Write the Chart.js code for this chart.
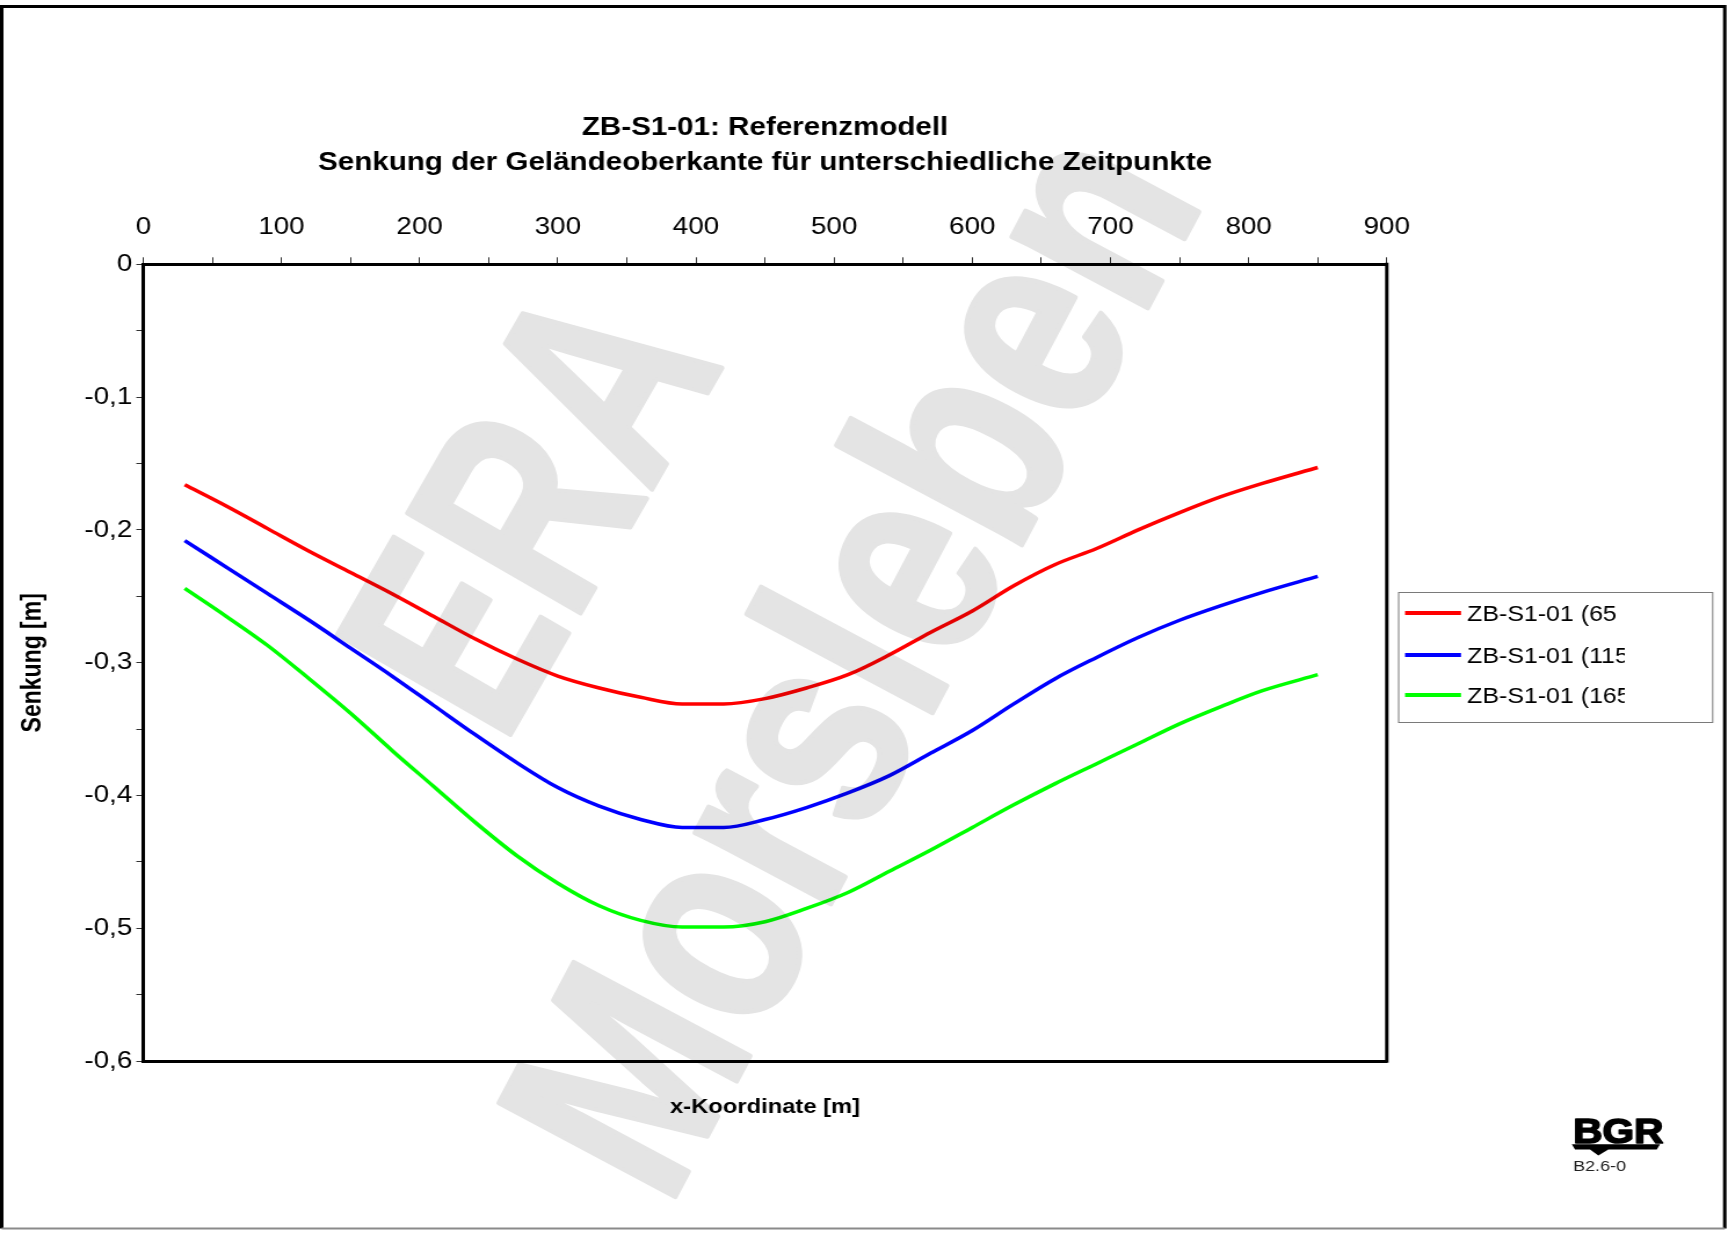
<!DOCTYPE html>
<html lang="de">
<head>
<meta charset="utf-8">
<title>ZB-S1-01: Referenzmodell</title>
<script src="https://cdn.jsdelivr.net/npm/chart.js@4/dist/chart.umd.min.js"></script>
<style>
  html, body { margin: 0; padding: 0; background: #ffffff; overflow: hidden; }
  #chart { display: block; }
</style>
</head>
<body>
<canvas id="chart" width="1490" height="1234" style="width:1728px;height:1234px"></canvas>
<script>
// ---- data -------------------------------------------------------------
const xKoordinate = [30, 60, 90, 120, 150, 180, 210, 240, 270, 300, 330, 360, 390, 420,
                     450, 480, 510, 540, 570, 600, 630, 660, 690, 720, 750, 780, 810, 850];

const senkung65 = [-0.166, -0.182, -0.199, -0.216, -0.232, -0.248, -0.265, -0.282, -0.297, -0.310,
                   -0.319, -0.326, -0.331, -0.331, -0.327, -0.319, -0.309, -0.294, -0.277, -0.261,
                   -0.242, -0.226, -0.214, -0.200, -0.187, -0.175, -0.165, -0.153];

const senkung115 = [-0.208, -0.228, -0.248, -0.268, -0.289, -0.310, -0.332, -0.354, -0.375, -0.394,
                    -0.408, -0.418, -0.424, -0.424, -0.418, -0.409, -0.398, -0.385, -0.368, -0.351,
                    -0.331, -0.312, -0.296, -0.281, -0.268, -0.257, -0.247, -0.235];

const senkung165 = [-0.244, -0.265, -0.287, -0.312, -0.338, -0.366, -0.393, -0.420, -0.445, -0.466,
                    -0.483, -0.494, -0.499, -0.499, -0.495, -0.485, -0.473, -0.457, -0.441, -0.424,
                    -0.407, -0.391, -0.376, -0.361, -0.346, -0.333, -0.321, -0.309];

const seriesLabels = ['ZB-S1-01 (65', 'ZB-S1-01 (115', 'ZB-S1-01 (165'];
const seriesColors = ['#ff0000', '#0000ff', '#00ff00'];

const xTickLabels = ['0', '100', '200', '300', '400', '500', '600', '700', '800', '900'];
const yTickLabels = ['0', '-0,1', '-0,2', '-0,3', '-0,4', '-0,5', '-0,6'];

const titleLines = ['ZB-S1-01: Referenzmodell',
                    'Senkung der Geländeoberkante für unterschiedliche Zeitpunkte'];
const xAxisTitle = 'x-Koordinate [m]';
const yAxisTitle = 'Senkung [m]';
const watermarkLines = ['ERA', 'Morsleben'];
const logoText = 'BGR';
const logoCode = 'B2.6-0';

// ---- layout -------------------------------------------------------------
// The drawing buffer is 1490 px wide and shown 1728 px wide (wide-stretched sheet).
const SX = 1728 / 1490;
const FONT = '"Liberation Sans", Arial, Helvetica, sans-serif';
const PLOT = { left: 123.56, right: 1195.79, top: 264.3, bottom: 1061.2 };

const seriesValues = [senkung65, senkung115, senkung165];
const datasets = seriesValues.map((vals, i) => ({
  label: seriesLabels[i],
  data: xKoordinate.map((x, k) => ({ x: x, y: vals[k] })),
  borderColor: seriesColors[i],
  backgroundColor: seriesColors[i],
  borderWidth: 3.5,
  pointRadius: 0,
  fill: false,
  cubicInterpolationMode: 'monotone'
}));

// ---- plugins ------------------------------------------------------------
const paperPlugin = {
  id: 'paper',
  beforeDraw(chart) {
    const ctx = chart.ctx;
    ctx.save();
    ctx.fillStyle = '#ffffff';
    ctx.fillRect(0, 0, chart.width, chart.height);
    ctx.restore();
  }
};

const headerPlugin = {
  id: 'header',
  afterDraw(chart) {
    const { ctx, chartArea } = chart;
    const cx = (chartArea.left + chartArea.right) / 2;
    ctx.save();
    ctx.fillStyle = '#000000';
    ctx.textAlign = 'center';
    ctx.textBaseline = 'alphabetic';
    ctx.font = 'bold 25.5px ' + FONT;
    ctx.fillText(titleLines[0], cx, 135);
    ctx.fillText(titleLines[1], cx, 170);
    ctx.restore();
  }
};

const frameLinesPlugin = {
  id: 'frameLines',
  afterDraw(chart) {
    const { ctx, chartArea } = chart;
    ctx.save();
    ctx.strokeStyle = '#000000';
    ctx.lineWidth = 3;
    // right edge of the plot box
    ctx.beginPath();
    ctx.moveTo(chartArea.right, chartArea.top - 1.5);
    ctx.lineTo(chartArea.right, chartArea.bottom + 1.5);
    ctx.stroke();
    // sheet border
    ctx.beginPath();
    ctx.moveTo(1.5, 1228.5);
    ctx.lineTo(1.5, 6.5);
    ctx.lineTo(1487.2, 6.5);
    ctx.lineTo(1487.2, 1228.5);
    ctx.stroke();
    ctx.strokeStyle = '#8a8a8a';
    ctx.lineWidth = 2;
    ctx.beginPath();
    ctx.moveTo(1.5, 1228.5);
    ctx.lineTo(1487.2, 1228.5);
    ctx.stroke();
    ctx.restore();
  }
};

const seriesKeyPlugin = {
  id: 'seriesKey',
  afterDraw(chart) {
    const ctx = chart.ctx;
    const box = { x: 1205.5, y: 592, w: 270.8, h: 130 };
    const rows = [613, 655, 695];
    ctx.save();
    ctx.strokeStyle = '#7a7a7a';
    ctx.lineWidth = 1;
    ctx.strokeRect(box.x + 0.5, box.y + 0.5, box.w, box.h);
    chart.data.datasets.forEach((ds, i) => {
      const y = rows[i];
      ctx.strokeStyle = ds.borderColor;
      ctx.lineWidth = 4;
      ctx.beginPath();
      ctx.moveTo(1211.5, y);
      ctx.lineTo(1259.8, y);
      ctx.stroke();
      // entry text is cut at the inner edge of the text column
      ctx.save();
      ctx.beginPath();
      ctx.rect(box.x, box.y, 1401 - box.x, box.h);
      ctx.clip();
      ctx.fillStyle = '#000000';
      ctx.font = '21.5px ' + FONT;
      ctx.textAlign = 'left';
      ctx.textBaseline = 'alphabetic';
      ctx.fillText(ds.label, 1265, y + 7.7);
      ctx.restore();
    });
    ctx.restore();
  }
};

const logoPlugin = {
  id: 'logo',
  afterDraw(chart) {
    const ctx = chart.ctx;
    ctx.save();
    ctx.fillStyle = '#000000';
    ctx.strokeStyle = '#000000';
    ctx.font = 'bold 35px ' + FONT;
    ctx.textAlign = 'left';
    ctx.textBaseline = 'alphabetic';
    ctx.lineWidth = 1.6;
    ctx.lineJoin = 'round';
    ctx.fillText(logoText, 1356.4, 1143);
    ctx.strokeText(logoText, 1356.4, 1143);
    // underline bar with a downward notch
    ctx.beginPath();
    ctx.moveTo(1355.3, 1144.3);
    ctx.lineTo(1431.4, 1144.3);
    ctx.lineTo(1428.6, 1149.6);
    ctx.lineTo(1386.8, 1149.6);
    ctx.lineTo(1378.2, 1155.5);
    ctx.lineTo(1371.0, 1149.6);
    ctx.lineTo(1358.1, 1149.6);
    ctx.closePath();
    ctx.fill();
    ctx.fillStyle = '#222222';
    ctx.font = '15.5px ' + FONT;
    ctx.fillText(logoCode, 1356.4, 1170.5);
    ctx.restore();
  }
};

// Diagonal sheet stamp: painted opaque on a layer, then laid over with multiply
const watermarkPlugin = {
  id: 'watermark',
  afterDraw(chart) {
    const ctx = chart.ctx;
    const size = 290;
    const cap = 0.716 * size;
    const lines = [
      { text: watermarkLines[0], cx: 524, cy: 503, angle: 60, squeeze: 0.725 },
      { text: watermarkLines[1], cx: 845, cy: 656, angle: 62, squeeze: 0.79 }
    ];
    const layer = document.createElement('canvas');
    layer.width = chart.width;
    layer.height = chart.height;
    const g = layer.getContext('2d');
    g.fillStyle = 'rgb(228,228,228)';
    g.strokeStyle = 'rgb(228,228,228)';
    g.lineJoin = 'round';
    g.lineWidth = 5;
    g.scale(1 / SX, 1);
    g.font = 'bold ' + size + 'px ' + FONT;
    g.textAlign = 'center';
    g.textBaseline = 'alphabetic';
    lines.forEach((ln) => {
      g.save();
      g.translate(ln.cx, ln.cy);
      g.rotate(-ln.angle * Math.PI / 180);
      g.scale(ln.squeeze, 1);
      g.fillText(ln.text, 0, cap / 2);
      g.strokeText(ln.text, 0, cap / 2);
      g.restore();
    });
    ctx.save();
    ctx.globalCompositeOperation = 'multiply';
    ctx.drawImage(layer, 0, 0);
    ctx.restore();
  }
};

// ---- chart --------------------------------------------------------------
new Chart(document.getElementById('chart'), {
  type: 'line',
  data: { datasets: datasets },
  options: {
    responsive: false,
    animation: false,
    devicePixelRatio: 1,
    layout: { padding: { left: 0, top: 0, right: 1490 - PLOT.right, bottom: 0 } },
    plugins: {
      legend: { display: false },
      title: { display: false },
      tooltip: { enabled: false }
    },
    scales: {
      x: {
        type: 'linear',
        position: 'top',
        min: 0,
        max: 900,
        afterFit(scale) { scale.height = PLOT.top; },
        ticks: {
          stepSize: 50,
          autoSkip: false,
          maxRotation: 0,
          padding: 16,
          color: '#000000',
          font: { family: FONT, size: 24 },
          callback: (v) => (v % 100 === 0 ? xTickLabels[v / 100] : '')
        },
        grid: { drawOnChartArea: false, drawTicks: true, tickLength: 7, color: '#333333', lineWidth: 1 },
        border: { display: true, color: '#000000', width: 3 }
      },
      x2: {
        type: 'linear',
        position: 'bottom',
        min: 0,
        max: 900,
        afterFit(scale) { scale.height = 1234 - PLOT.bottom; },
        ticks: { display: false },
        grid: { display: false, drawTicks: false },
        border: { display: true, color: '#000000', width: 3 },
        title: {
          display: true,
          text: xAxisTitle,
          color: '#000000',
          font: { family: FONT, size: 20.5, weight: 'bold' },
          padding: { top: 0, bottom: 114.7 }
        }
      },
      y: {
        type: 'linear',
        position: 'left',
        min: -0.6,
        max: 0,
        afterFit(scale) { scale.width = PLOT.left; },
        ticks: {
          stepSize: 0.05,
          autoSkip: false,
          padding: 3.5,
          color: '#000000',
          font: { family: FONT, size: 24 },
          callback: (v) => {
            const k = Math.round(-v * 100);
            return k % 10 === 0 ? yTickLabels[k / 10] : '';
          }
        },
        grid: { drawOnChartArea: false, drawTicks: true, tickLength: 6, color: '#333333', lineWidth: 1 },
        border: { display: true, color: '#000000', width: 3 },
        title: {
          display: true,
          text: yAxisTitle,
          color: '#000000',
          font: { family: FONT, size: 23, weight: 'bold' },
          padding: { top: 14.7, bottom: 0 }
        }
      }
    }
  },
  plugins: [paperPlugin, headerPlugin, frameLinesPlugin, seriesKeyPlugin, logoPlugin, watermarkPlugin]
});
</script>
</body>
</html>
